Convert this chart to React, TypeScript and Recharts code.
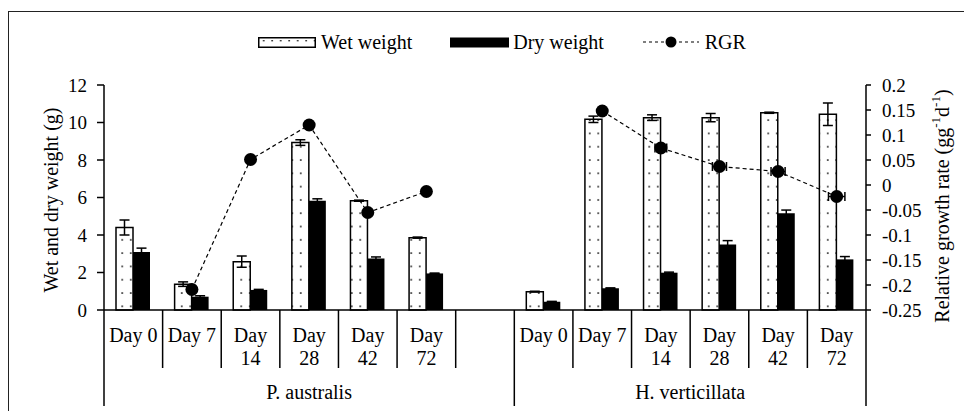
import React from 'react';
import { ComposedChart, Bar, Line, XAxis, YAxis, ErrorBar, Legend } from 'recharts';

const FONT = '"Liberation Serif", "Times New Roman", serif';

const categories = ['P-0', 'P-7', 'P-14', 'P-28', 'P-42', 'P-72', 'gap', 'H-0', 'H-7', 'H-14', 'H-28', 'H-42', 'H-72'];
const dayLabels = ['Day 0', 'Day 7', 'Day\n14', 'Day\n28', 'Day\n42', 'Day\n72', '', 'Day 0', 'Day 7', 'Day\n14', 'Day\n28', 'Day\n42', 'Day\n72'];

const wetWeight = [4.4, 1.38, 2.58, 8.93, 5.83, 3.86, null, 0.98, 10.17, 10.26, 10.26, 10.52, 10.44];
const wetErr = [0.4, 0.12, 0.3, 0.15, 0.03, 0.03, null, 0.02, 0.17, 0.15, 0.22, 0.03, 0.6];
const dryWeight = [3.1, 0.71, 1.07, 5.83, 2.75, 1.95, null, 0.44, 1.16, 1.99, 3.5, 5.16, 2.7];
const dryErr = [0.2, 0.05, 0.03, 0.1, 0.08, 0.02, null, 0.02, 0.02, 0.03, 0.2, 0.17, 0.15];
const rgrValues = [null, -0.209, 0.051, 0.12, -0.055, -0.013, null, null, 0.148, 0.074, 0.037, 0.027, -0.023];
// horizontal spread of the RGR estimate, in category units
const rgrXErr = [0, 0, 0, 0, 0, 0, 0, 0, 0, 0.1, 0.12, 0.12, 0.14];

const groupNames = ['P. australis', 'H. verticillata'];
const groupStart = [0, 7];
const groupEnd = [7, 13];

const leftTicks = [0, 2, 4, 6, 8, 10, 12];
const rgrTicks = [-0.25, -0.2, -0.15, -0.1, -0.05, 0, 0.05, 0.1, 0.15, 0.2];
const seriesNames = ['Wet weight', 'Dry weight', 'RGR'];

const data = categories.map((c, i) => ({
  cat: c,
  wet: wetWeight[i],
  wetErr: wetErr[i],
  dry: dryWeight[i],
  dryErr: dryErr[i],
  rgr: rgrValues[i],
}));

const DayTick = (props: any) => {
  const { x, y, payload } = props;
  let idx = props.index;
  if (payload && typeof payload.value === 'string') {
    const k = categories.indexOf(payload.value);
    if (k >= 0) idx = k;
  }
  const count = props.visibleTicksCount || categories.length;
  const band = typeof props.width === 'number' && props.width > 0 ? props.width / count : 58.6;
  const lines = (dayLabels[idx] || '').split('\n').filter((s) => s !== '');
  const isBorder = (b: number) => groupStart.includes(b) || groupEnd.includes(b);
  const leftX = x - band / 2;
  const gi = groupStart.indexOf(idx);
  return (
    <g>
      {lines.map((t, k) => (
        <text key={k} x={x} y={y + 32 + k * 23} textAnchor="middle" fontFamily={FONT} fontSize={20} fill="#000">
          {t}
        </text>
      ))}
      <line x1={leftX} x2={leftX} y1={y} y2={y + (isBorder(idx) ? 96 : 58)} stroke="#000" strokeWidth={1.5} />
      {idx === categories.length - 1 && (
        <line x1={x + band / 2} x2={x + band / 2} y1={y} y2={y + (isBorder(idx + 1) ? 96 : 58)} stroke="#000" strokeWidth={1.5} />
      )}
      {gi >= 0 && (
        <text
          x={leftX + ((groupEnd[gi] - groupStart[gi]) * band) / 2}
          y={y + 89}
          textAnchor="middle"
          fontFamily={FONT}
          fontSize={20}
          fill="#000"
        >
          {groupNames[gi]}
        </text>
      )}
    </g>
  );
};

const LeftLabel = (props: any) => {
  const vb = props.viewBox || { x: 0, y: 77, width: 96, height: 225 };
  const cx = vb.x + 43;
  const cy = vb.y + 115;
  return (
    <text x={cx} y={cy} transform={`rotate(-90 ${cx} ${cy})`} textAnchor="middle" dominantBaseline="central" fontFamily={FONT} fontSize={20} fill="#000">
      Wet and dry weight (g)
    </text>
  );
};

const RightLabel = (props: any) => {
  const vb = props.viewBox || { x: 858, y: 77, width: 106, height: 225 };
  const cx = vb.x + 76;
  const cy = vb.y + 121;
  return (
    <text x={cx} y={cy} transform={`rotate(-90 ${cx} ${cy})`} textAnchor="middle" dominantBaseline="central" fontFamily={FONT} fontSize={20} fill="#000">
      Relative growth rate (gg
      <tspan fontSize={13} dy={-7}>-1</tspan>
      <tspan dy={7}>d</tspan>
      <tspan fontSize={13} dy={-7}>-1</tspan>
      <tspan dy={7}>)</tspan>
    </text>
  );
};

const RgrDot = (props: any) => {
  const { cx, cy, index, points } = props;
  if (cx == null || cy == null || rgrValues[index] == null) return <g key={`d${index}`} />;
  const slot = points && points.length > 1 ? points[1].x - points[0].x : 0;
  const e = (rgrXErr[index] || 0) * slot;
  return (
    <g key={`d${index}`}>
      {e > 0 && (
        <g stroke="#000" strokeWidth={1.5}>
          <line x1={cx - e} x2={cx + e} y1={cy} y2={cy} />
          <line x1={cx - e} x2={cx - e} y1={cy - 4.5} y2={cy + 4.5} />
          <line x1={cx + e} x2={cx + e} y1={cy - 4.5} y2={cy + 4.5} />
        </g>
      )}
      <circle cx={cx} cy={cy} r={6.5} fill="#000" />
    </g>
  );
};

const renderLegend = () => (
  <div
    style={{
      display: 'flex',
      justifyContent: 'center',
      alignItems: 'center',
      paddingLeft: 24,
      height: 20,
      fontFamily: FONT,
      fontSize: 20,
      lineHeight: '20px',
      color: '#000',
      whiteSpace: 'nowrap',
    }}
  >
    <svg width={58} height={11} style={{ display: 'block' }}>
      <defs>
        <pattern id="legDots" width={8.5} height={13} patternUnits="userSpaceOnUse">
          <rect width={8.5} height={13} fill="#fff" />
          <rect x={5} y={3} width={1.4} height={1.4} fill="#000" />
        </pattern>
      </defs>
      <rect x={0.75} y={0.75} width={56.5} height={9.5} fill="url(#legDots)" stroke="#000" strokeWidth={1.5} />
    </svg>
    <span style={{ marginLeft: 5 }}>{seriesNames[0]}</span>
    <svg width={59} height={11} style={{ display: 'block', marginLeft: 38 }}>
      <rect x={0} y={0.5} width={59} height={10} fill="#000" />
    </svg>
    <span style={{ marginLeft: 4 }}>{seriesNames[1]}</span>
    <svg width={56} height={14} style={{ display: 'block', marginLeft: 39 }}>
      <line x1={0} x2={56} y1={7} y2={7} stroke="#000" strokeWidth={1.2} strokeDasharray="3 3" />
      <circle cx={28} cy={7} r={5.5} fill="#000" />
    </svg>
    <span style={{ marginLeft: 6 }}>{seriesNames[2]}</span>
  </div>
);

const axisStroke = { stroke: '#000', strokeWidth: 1.5 };

export default function App() {
  return (
    <div style={{ position: 'relative', width: 964, height: 403, fontFamily: FONT }}>
      <div
        style={{
          position: 'absolute',
          left: 0,
          top: 3,
          width: 964,
          height: 400,
          boxSizing: 'border-box',
          borderTop: '1.5px solid #222',
          borderLeft: '1.5px solid #222',
          pointerEvents: 'none',
        }}
      />
      <ComposedChart
        width={964}
        height={403}
        data={data}
        margin={{ top: 77, right: 0, bottom: 100, left: 0 }}
        barGap={0}
      >
        <defs>
          <pattern id="dotFill" width={8.5} height={13.3} patternUnits="userSpaceOnUse">
            <rect width={8.5} height={13.3} fill="#fff" />
            <rect x={3} y={5} width={1.5} height={1.5} fill="#000" />
          </pattern>
        </defs>
        <XAxis
          dataKey="cat"
          xAxisId={0}
          height={1}
          interval={0}
          tickSize={0}
          tickMargin={0}
          tickLine={false}
          axisLine={axisStroke}
          tick={<DayTick />}
        />
        <YAxis
          yAxisId="left"
          orientation="left"
          width={96}
          domain={[0, 12]}
          ticks={leftTicks}
          interval={0}
          tickSize={7}
          tickMargin={10}
          axisLine={axisStroke}
          tickLine={axisStroke}
          tick={{ fill: '#000', fontSize: 19, fontFamily: FONT }}
          label={(p: any) => <LeftLabel {...p} />}
        />
        <YAxis
          yAxisId="rgr"
          orientation="right"
          width={106}
          domain={[-0.25, 0.2]}
          allowDataOverflow
          ticks={rgrTicks}
          interval={0}
          tickSize={5}
          tickMargin={11}
          tickFormatter={(v: number) => String(v)}
          axisLine={axisStroke}
          tickLine={axisStroke}
          tick={{ fill: '#000', fontSize: 19, fontFamily: FONT }}
          label={(p: any) => <RightLabel {...p} />}
        />
        <Legend
          layout="horizontal"
          verticalAlign="middle"
          align="center"
          wrapperStyle={{ top: 24, left: 0, width: 964 }}
          content={renderLegend}
        />
        <Bar
          dataKey="wet"
          name={seriesNames[0]}
          yAxisId="left"
          xAxisId={0}
          fill="url(#dotFill)"
          stroke="#000"
          strokeWidth={1.5}
          barSize={17}
          isAnimationActive={false}
        >
          <ErrorBar dataKey="wetErr" width={5} stroke="#000" strokeWidth={1.5} direction="y" />
        </Bar>
        <Bar
          dataKey="dry"
          name={seriesNames[1]}
          yAxisId="left"
          xAxisId={0}
          fill="#000"
          barSize={17}
          isAnimationActive={false}
        >
          <ErrorBar dataKey="dryErr" width={5} stroke="#000" strokeWidth={1.5} direction="y" />
        </Bar>
        <Line
          dataKey="rgr"
          name={seriesNames[2]}
          yAxisId="rgr"
          xAxisId={0}
          stroke="#000"
          strokeWidth={1.2}
          strokeDasharray="4 3"
          dot={RgrDot}
          activeDot={false}
          connectNulls={false}
          isAnimationActive={false}
        />
      </ComposedChart>
    </div>
  );
}
